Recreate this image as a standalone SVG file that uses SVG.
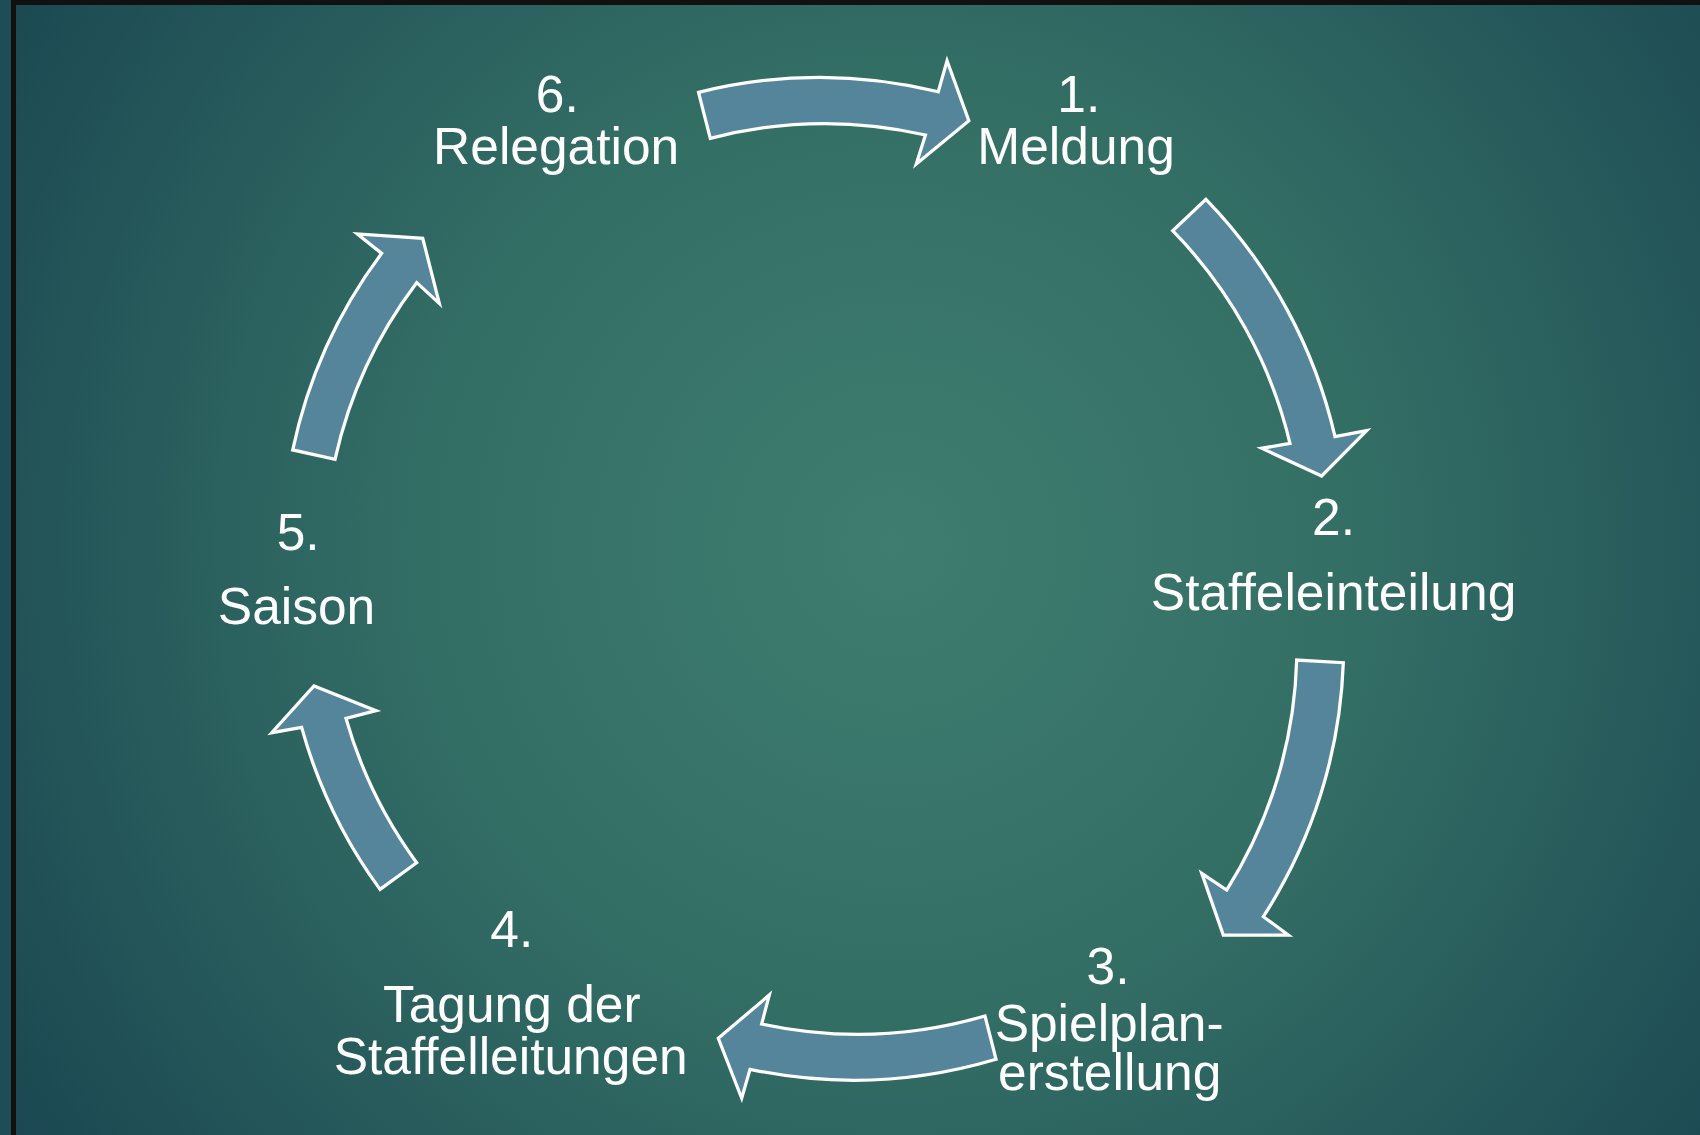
<svg xmlns="http://www.w3.org/2000/svg" width="1700" height="1135" viewBox="0 0 1700 1135">
<defs>
<radialGradient id="bg" gradientUnits="userSpaceOnUse" cx="895" cy="545" r="1050">
<stop offset="0" stop-color="#3f7d70"/>
<stop offset="0.45" stop-color="#336e65"/>
<stop offset="1" stop-color="#1b4852"/>
</radialGradient>
<style>
.lbl{font-family:"Liberation Sans",Arial,sans-serif;font-size:47.5px;fill:#ffffff;text-anchor:middle}
.arw{fill:#55859b;stroke:#ffffff;stroke-width:3;stroke-linejoin:miter}
</style>
</defs>
<rect width="1700" height="1135" fill="url(#bg)"/>
<rect x="0" y="0" width="11" height="1135" fill="#1d4d56"/>
<rect x="11" y="0" width="5" height="1135" fill="#111111"/>
<rect x="11" y="0" width="1689" height="5" fill="#111111"/>
<g transform="scale(1.0842)">
<g id="connectors">
<path class="arw" d="M644.3,85.2 A462,462 0 0 1 865.4,84.6 L873.5,56 L893.6,111.3 L845.1,151.3 L853.6,124.5 A420,420 0 0 0 655.1,127.6 Z"/>
<path class="arw" d="M1112.3,183.8 A462,462 0 0 1 1231.3,402.8 L1260.5,397.2 L1219,439 L1163.7,413.5 L1189.8,408.9 A420,420 0 0 0 1081.6,212.8 Z"/>
<path class="arw" d="M1239,611.2 A462,462 0 0 1 1165.2,845.5 L1188.3,862.4 L1128.3,862.4 L1108.4,805.5 L1131.4,820.9 A420,420 0 0 0 1196,608.8 Z"/>
<path class="arw" d="M918.7,977 A462,462 0 0 1 691.8,986.3 L684.1,1013 L662.5,957.7 L709.6,917.7 L702.5,944.5 A420,420 0 0 0 908.5,937.1 Z"/>
<path class="arw" d="M350.5,820.3 A462,462 0 0 1 278.2,670.9 L250.6,675.8 L289.6,632.7 L346.8,655.5 L319.1,662.6 A420,420 0 0 0 384.3,795.7 Z"/>
<path class="arw" d="M270,415 A462,462 0 0 1 352,233.7 L329.6,215.8 L389.9,219.8 L405.2,279.8 L384.3,260.7 A420,420 0 0 0 309,423.7 Z"/>
</g>
<g id="node1"><text class="lbl" x="995" y="103">1.</text><text class="lbl" x="992.5" y="151">Meldung</text></g>
<g id="node2"><text class="lbl" x="1230" y="493">2.</text><text class="lbl" x="1230" y="563">Staffeleinteilung</text></g>
<g id="node3"><text class="lbl" x="1022" y="908">3.</text><text class="lbl" x="1023" y="960">Spielplan-</text><text class="lbl" x="1023.5" y="1005">erstellung</text></g>
<g id="node4"><text class="lbl" x="472" y="873">4.</text><text class="lbl" x="472" y="943">Tagung der</text><text class="lbl" x="471" y="991">Staffelleitungen</text></g>
<g id="node5"><text class="lbl" x="275" y="507">5.</text><text class="lbl" x="273.5" y="576">Saison</text></g>
<g id="node6"><text class="lbl" x="514" y="103">6.</text><text class="lbl" x="513" y="151">Relegation</text></g>
</g>
</svg>
